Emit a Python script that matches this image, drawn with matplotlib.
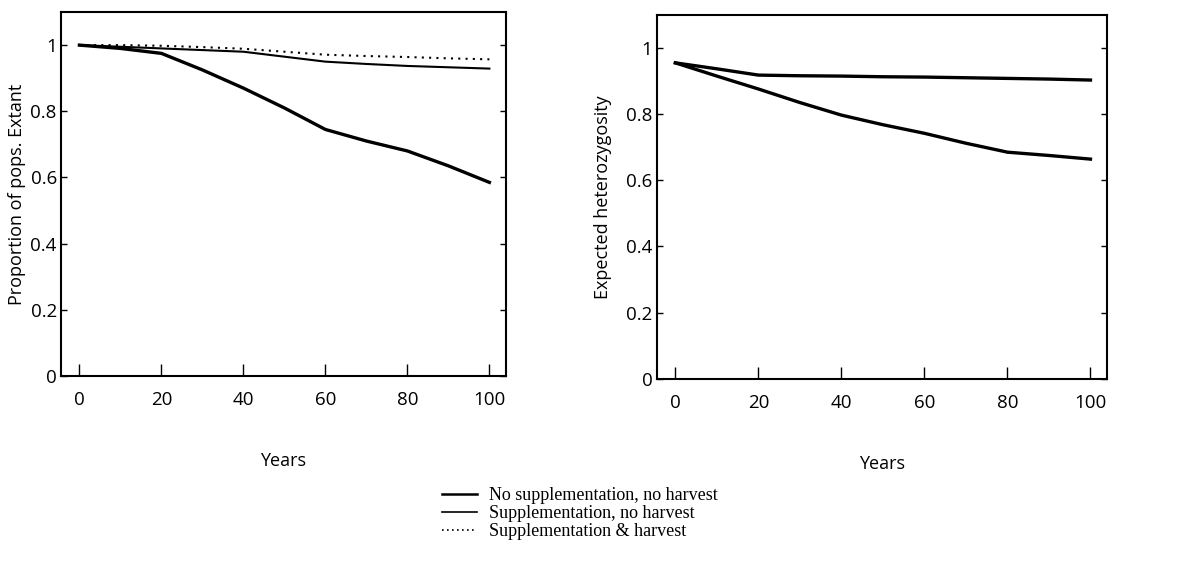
import matplotlib as mpl

mpl.use("Agg")

import matplotlib.pyplot as plt
from matplotlib.lines import Line2D

# Data
years = [0, 10, 20, 30, 40, 50, 60, 70, 80, 90, 100]

# Left panel: proportion of populations extant
extant_no_supp = [1.0, 0.99, 0.975, 0.925, 0.87, 0.81, 0.745, 0.71, 0.68, 0.635, 0.585]
extant_supp = [1.0, 0.995, 0.99, 0.985, 0.98, 0.965, 0.95, 0.943, 0.937, 0.933, 0.929]
extant_supp_harvest = [1.0, 1.0, 0.998, 0.994, 0.989, 0.98, 0.971, 0.967, 0.964, 0.96, 0.957]

# Right panel: expected heterozygosity
het_no_supp = [0.955, 0.915, 0.876, 0.835, 0.797, 0.768, 0.742, 0.712, 0.685, 0.675, 0.664]
het_supp = [0.955, 0.937, 0.918, 0.916, 0.915, 0.913, 0.912, 0.91, 0.908, 0.906, 0.903]

legend_labels = [
    "No supplementation, no harvest",
    "Supplementation, no harvest",
    "Supplementation & harvest",
]

xticks = [0, 20, 40, 60, 80, 100]
yticks = [0, 0.2, 0.4, 0.6, 0.8, 1.0]
ytick_labels = ["0", "0.2", "0.4", "0.6", "0.8", "1"]

AXIS_FONT = "Open Sans"
LEGEND_FONT = "Liberation Serif"
THICK = 2.4
THIN = 1.5

fig = plt.figure(figsize=(11.79, 5.73), dpi=100)
ax_left = fig.add_axes([0.0517, 0.344, 0.3773, 0.635])
ax_right = fig.add_axes([0.557, 0.339, 0.382, 0.635])


def style_axes(ax, ylabel, ylabel_x):
    ax.set_xlim(-4.5, 104)
    ax.set_ylim(0, 1.1)
    ax.set_xticks(xticks)
    ax.set_yticks(yticks)
    ax.set_yticklabels(ytick_labels)
    for spine in ax.spines.values():
        spine.set_linewidth(1.5)
    ax.tick_params(axis="x", direction="in", length=9, width=1.0, pad=11,
                   labelsize=13.5, top=False)
    ax.tick_params(axis="y", direction="in", length=4.5, width=1.0, pad=3,
                   labelsize=13.5, right=True)
    for label in ax.get_xticklabels() + ax.get_yticklabels():
        label.set_fontfamily(AXIS_FONT)
    ax.set_xlabel("Years", fontsize=13, fontfamily=AXIS_FONT)
    ax.xaxis.set_label_coords(0.5, -0.21)
    ax.set_ylabel(ylabel, fontsize=13, fontfamily=AXIS_FONT)
    ax.yaxis.set_label_coords(ylabel_x, 0.5)


ax_left.plot(years, extant_supp_harvest, color="black", lw=THIN, ls=(0, (1, 2.5)))
ax_left.plot(years, extant_supp, color="black", lw=THIN)
ax_left.plot(years, extant_no_supp, color="black", lw=THICK)
style_axes(ax_left, "Proportion of pops. Extant", -0.078)

ax_right.plot(years, het_supp, color="black", lw=THICK)
ax_right.plot(years, het_no_supp, color="black", lw=THICK)
style_axes(ax_right, "Expected heterozygosity", -0.1)

handles = [
    Line2D([], [], color="black", lw=1.8),
    Line2D([], [], color="black", lw=1.2),
    Line2D([], [], color="black", lw=1.2, ls=(0, (1, 2))),
]
fig.legend(handles, legend_labels, loc="upper left", bbox_to_anchor=(0.369, 0.162),
           frameon=False, handlelength=1.9, handletextpad=0.7, labelspacing=0.05,
           borderaxespad=0, prop={"family": LEGEND_FONT, "size": 13})

fig.savefig("out.png", dpi=100)
